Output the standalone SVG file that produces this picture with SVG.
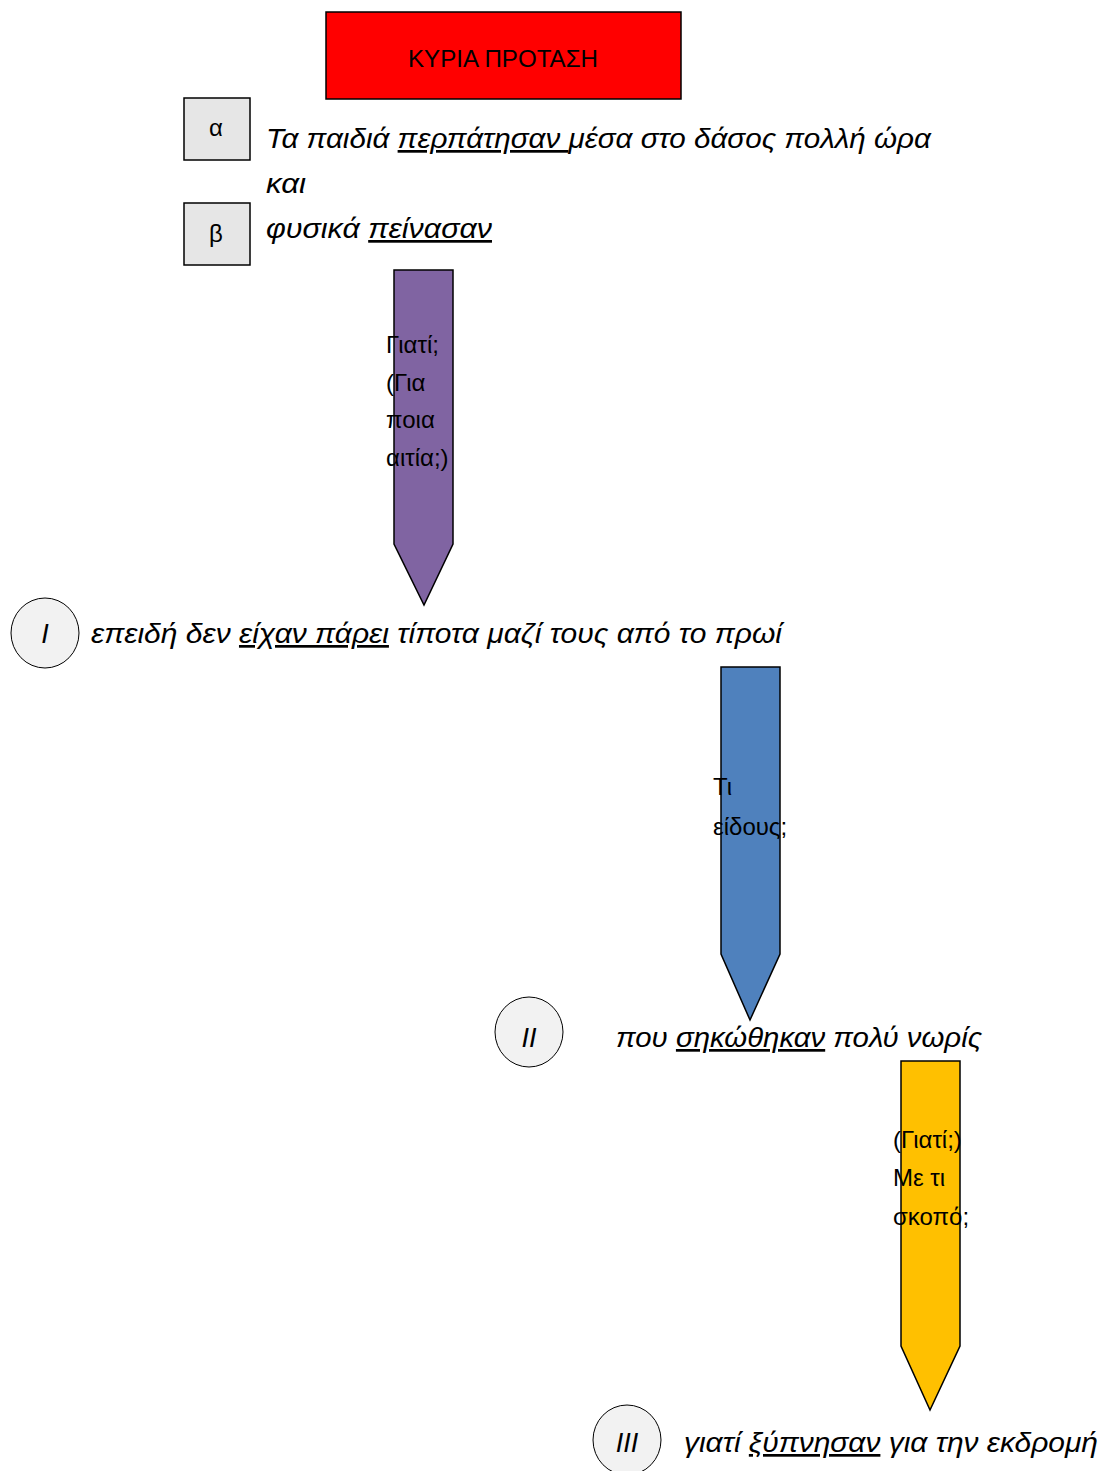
<svg xmlns="http://www.w3.org/2000/svg" width="1102" height="1471" viewBox="0 0 1102 1471">
<style>
.s{stroke:#000;stroke-width:1.5}
.it{font-family:"Liberation Sans","Noto Sans",sans-serif;font-style:italic;font-size:27px;fill:#000}
.up{font-family:"Liberation Sans","Noto Sans",sans-serif;font-size:24px;fill:#000}
.u{text-decoration:underline}
.box{fill:#e6e6e6}
.circ{fill:#f2f2f2}
</style>
<rect width="1102" height="1471" fill="#fff"/>
<g id="main">
<rect class="s" x="326" y="12" width="355" height="87" fill="#ff0000"/>
<text class="up" x="503" y="67" text-anchor="middle" textLength="190" lengthAdjust="spacingAndGlyphs">ΚΥΡΙΑ ΠΡΟΤΑΣΗ</text>
</g>
<g id="alpha">
<rect class="s box" x="184" y="98" width="66" height="62"/>
<text class="up" x="216" y="136" text-anchor="middle">α</text>
</g>
<g id="beta">
<rect class="s box" x="184" y="203" width="66" height="62"/>
<text class="up" x="216" y="242" text-anchor="middle">β</text>
</g>
<g id="sentence-a">
<text class="it" x="266" y="148" textLength="665" lengthAdjust="spacingAndGlyphs">Τα παιδιά <tspan class="u">περπάτησαν </tspan>μέσα στο δάσος πολλή ώρα</text>
<text class="it" x="266" y="193" textLength="40" lengthAdjust="spacingAndGlyphs">και</text>
</g>
<g id="sentence-b">
<text class="it" x="266" y="238" textLength="226" lengthAdjust="spacingAndGlyphs">φυσικά <tspan class="u">πείνασαν</tspan></text>
</g>
<g id="connectors">
<g id="pencil-1">
<polygon class="s" points="394,270 453,270 453,544 424,605 394,544" fill="#8064a2"/>
<text class="up" x="386" y="353">Γιατί;</text>
<text class="up" x="386" y="391">(Για</text>
<text class="up" x="386" y="428">ποια</text>
<text class="up" x="386" y="466">αιτία;)</text>
</g>
<g id="pencil-2">
<polygon class="s" points="721,667 780,667 780,954 750,1020 721,954" fill="#4f81bd"/>
<text class="up" x="713" y="795">Τι</text>
<text class="up" x="713" y="835">είδους;</text>
</g>
<g id="pencil-3">
<polygon class="s" points="901,1061 960,1061 960,1346 930,1410 901,1346" fill="#ffc000"/>
<text class="up" x="893" y="1148">(Γιατί;)</text>
<text class="up" x="893" y="1186">Με τι</text>
<text class="up" x="893" y="1225">σκοπό;</text>
</g>
</g>
<g id="clause-1">
<ellipse class="circ" cx="45" cy="633" rx="34" ry="35" stroke="#000" stroke-width="1"/>
<text class="it" x="45" y="643" text-anchor="middle">I</text>
<text class="it" x="91" y="643" textLength="691" lengthAdjust="spacingAndGlyphs">επειδή δεν <tspan class="u">είχαν πάρει</tspan> τίποτα μαζί τους από το πρωί</text>
</g>
<g id="clause-2">
<ellipse class="circ" cx="529" cy="1032" rx="34" ry="35" stroke="#000" stroke-width="1"/>
<text class="it" x="529" y="1047" text-anchor="middle">II</text>
<text class="it" x="616" y="1047" textLength="366" lengthAdjust="spacingAndGlyphs">που <tspan class="u">σηκώθηκαν</tspan> πολύ νωρίς</text>
</g>
<g id="clause-3">
<ellipse class="circ" cx="627" cy="1440" rx="34" ry="35" stroke="#000" stroke-width="1"/>
<text class="it" x="627" y="1452" text-anchor="middle">III</text>
<text class="it" x="684" y="1452" textLength="414" lengthAdjust="spacingAndGlyphs">γιατί <tspan class="u">ξύπνησαν</tspan> για την εκδρομή</text>
</g>
</svg>
